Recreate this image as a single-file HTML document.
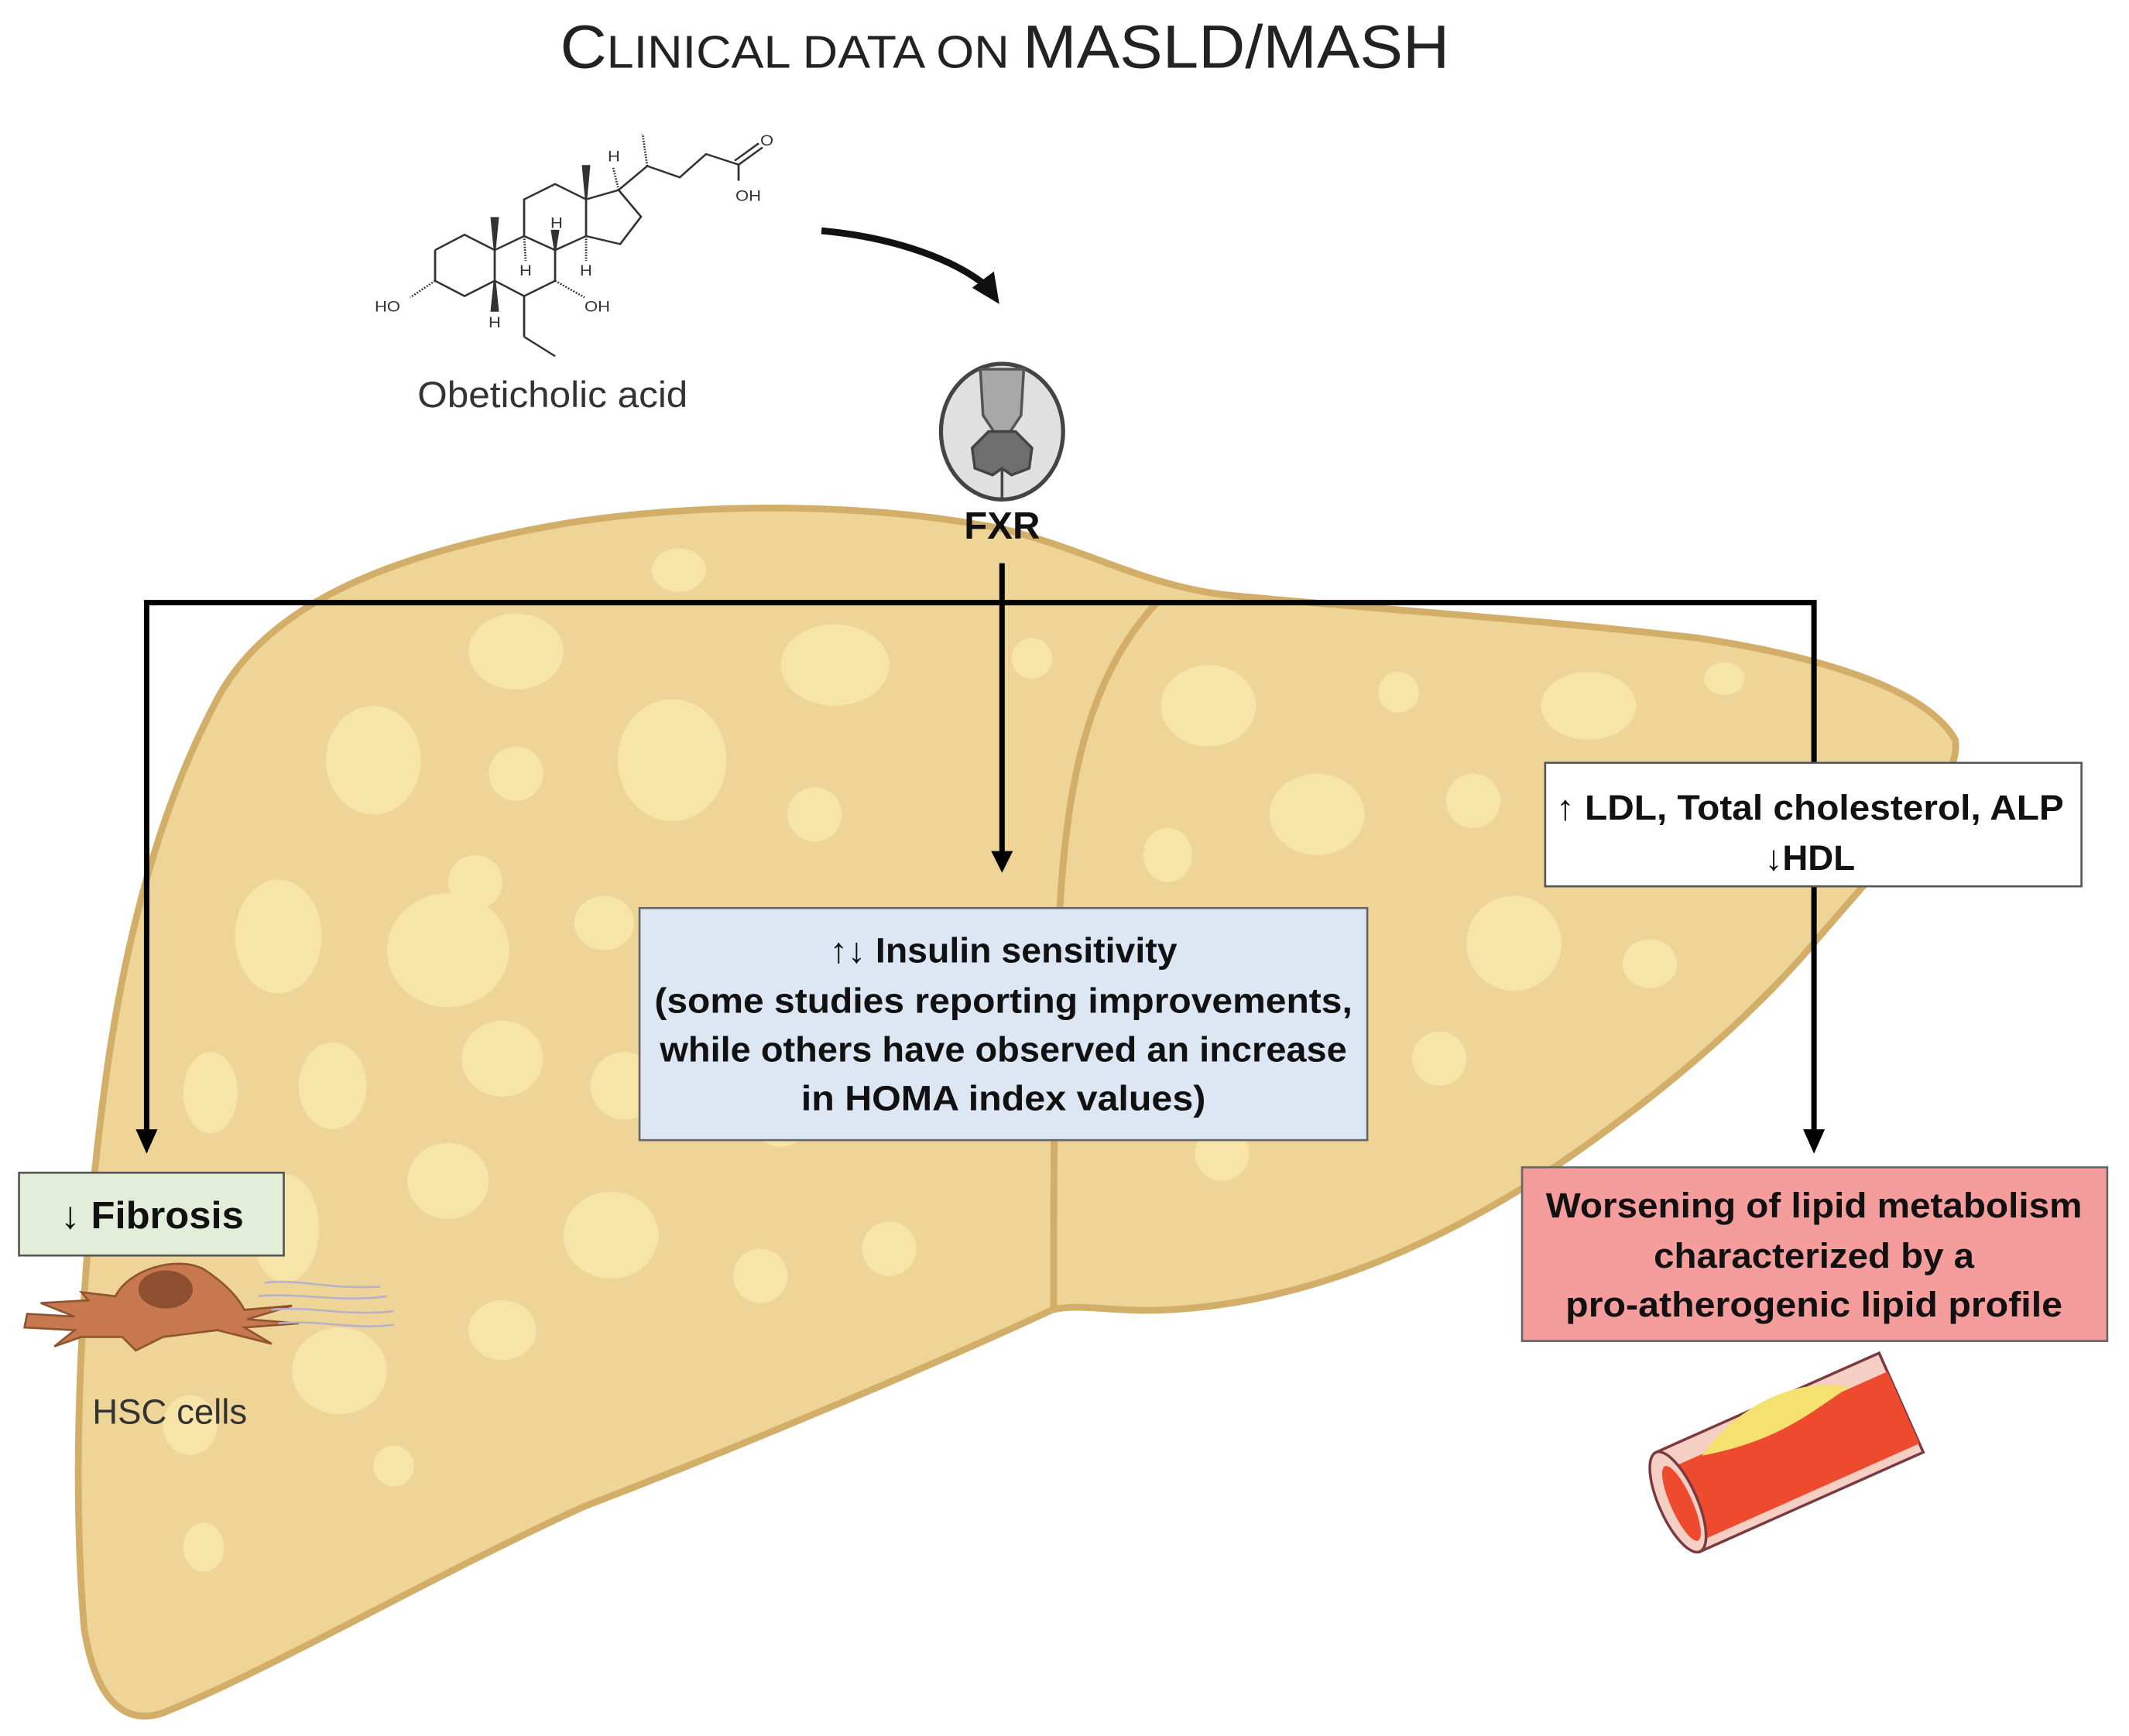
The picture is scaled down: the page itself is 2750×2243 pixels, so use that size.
<!DOCTYPE html>
<html><head><meta charset="utf-8"><style>
html,body{margin:0;padding:0;background:#fff;}
svg{display:block;}
text{font-family:"Liberation Sans","DejaVu Sans",sans-serif;}
</style></head><body>
<svg width="2750" height="2243" viewBox="0 0 1568 1279" preserveAspectRatio="none" xmlns="http://www.w3.org/2000/svg">
<!-- Title -->
<text x="740" y="50" text-anchor="middle" font-size="45" fill="#222" textLength="655" lengthAdjust="spacingAndGlyphs"><tspan>C</tspan><tspan font-size="34">LINICAL DATA ON </tspan><tspan>MASLD/MASH</tspan></text>

<!-- Liver -->
<path d="M160,515 C200,440 300,405 420,385 C520,370 640,370 740,390 C800,405 840,430 900,438 C1000,448 1120,455 1250,470 C1350,485 1420,510 1440,545 C1445,575 1400,620 1340,690 C1290,750 1220,810 1130,870 C1050,920 960,960 860,965 C820,967 795,960 775,965 C700,1000 560,1060 430,1110 C320,1160 200,1230 120,1262 C90,1272 70,1250 62,1200 C52,1080 60,920 80,780 C95,680 120,590 160,515 Z" fill="#EED597" stroke="#D2AE68" stroke-width="5"/>
<path d="M852,444 C800,500 785,580 780,680 C776,780 776,880 776,965" fill="none" stroke="#D2AE68" stroke-width="5"/>
<g fill="#F7E4A8">
<ellipse cx="380" cy="480" rx="35" ry="28"/><ellipse cx="500" cy="420" rx="20" ry="16"/><ellipse cx="615" cy="490" rx="40" ry="30"/>
<ellipse cx="275" cy="560" rx="35" ry="40"/><ellipse cx="380" cy="570" rx="20" ry="20"/><ellipse cx="495" cy="560" rx="40" ry="45"/>
<ellipse cx="600" cy="600" rx="20" ry="20"/><ellipse cx="760" cy="485" rx="15" ry="15"/><ellipse cx="350" cy="650" rx="20" ry="20"/>
<ellipse cx="205" cy="690" rx="32" ry="42"/><ellipse cx="330" cy="700" rx="45" ry="42"/><ellipse cx="445" cy="680" rx="22" ry="20"/>
<ellipse cx="155" cy="805" rx="20" ry="30"/><ellipse cx="245" cy="800" rx="25" ry="32"/><ellipse cx="370" cy="780" rx="30" ry="28"/>
<ellipse cx="460" cy="800" rx="25" ry="25"/><ellipse cx="210" cy="905" rx="25" ry="40"/><ellipse cx="330" cy="870" rx="30" ry="28"/>
<ellipse cx="450" cy="910" rx="35" ry="32"/><ellipse cx="560" cy="940" rx="20" ry="20"/><ellipse cx="655" cy="920" rx="20" ry="20"/>
<ellipse cx="250" cy="1010" rx="35" ry="32"/><ellipse cx="370" cy="980" rx="25" ry="22"/><ellipse cx="140" cy="1050" rx="20" ry="22"/>
<ellipse cx="290" cy="1080" rx="15" ry="15"/><ellipse cx="150" cy="1140" rx="15" ry="18"/><ellipse cx="575" cy="825" rx="20" ry="20"/>
<ellipse cx="890" cy="520" rx="35" ry="30"/><ellipse cx="1030" cy="510" rx="15" ry="15"/><ellipse cx="1170" cy="520" rx="35" ry="25"/>
<ellipse cx="1270" cy="500" rx="15" ry="12"/><ellipse cx="860" cy="630" rx="18" ry="20"/><ellipse cx="970" cy="600" rx="35" ry="30"/>
<ellipse cx="1085" cy="590" rx="20" ry="20"/><ellipse cx="960" cy="700" rx="22" ry="22"/><ellipse cx="1115" cy="695" rx="35" ry="35"/>
<ellipse cx="1215" cy="710" rx="20" ry="18"/><ellipse cx="1060" cy="780" rx="20" ry="20"/><ellipse cx="900" cy="850" rx="20" ry="20"/>
<ellipse cx="1290" cy="600" rx="20" ry="18"/>
</g>

<!-- Molecule -->
<g transform="translate(0,7.8) scale(0.5702,0.4915)" stroke="#333" stroke-width="2.8" fill="none">
<polyline points="562,359 600,336 639,359 639,405 600,428 562,405 562,359"/>
<polyline points="639,359 677,338 717,359 717,405 677,428 639,405"/>
<polyline points="677,338 677,283 717,260 757,283 757,338 717,359"/>
<polyline points="757,283 799,269 828,309 801,350 757,338"/>
<polyline points="799,269 836,233 878,250 912,215 954,231"/>
<line x1="954" y1="231" x2="954" y2="255"/>
<line x1="954" y1="231" x2="985" y2="205"/><line x1="949" y1="225" x2="980" y2="199"/>
<line x1="677" y1="428" x2="677" y2="489"/><line x1="677" y1="489" x2="717" y2="518"/>
<line x1="562" y1="405" x2="530" y2="430" stroke-dasharray="2,2"/>
<line x1="717" y1="405" x2="755" y2="430" stroke-dasharray="2,2"/>
<line x1="836" y1="233" x2="830" y2="185" stroke-dasharray="2,2"/>
<line x1="799" y1="269" x2="792" y2="235" stroke-dasharray="2,2"/>
<line x1="677" y1="338" x2="679" y2="375" stroke-dasharray="2,2"/>
<line x1="757" y1="338" x2="757" y2="375" stroke-dasharray="2,2"/>
<polygon points="639,359 635,311 643,311" fill="#333"/>
<polygon points="757,283 753,233 761,233" fill="#333"/>
<polygon points="717,359 713,330 721,330" fill="#333"/>
<polygon points="639,405 635,450 643,450" fill="#333"/>
<g stroke="none" fill="#333" font-size="22">
<text x="484" y="451">HO</text><text x="755" y="451">OH</text>
<text x="631" y="475">H</text><text x="671" y="397">H</text><text x="711" y="326">H</text>
<text x="749" y="397">H</text><text x="785" y="226">H</text>
<text x="950" y="285">OH</text><text x="982" y="202">O</text>
</g>
</g>
<text x="407" y="300" text-anchor="middle" font-size="27" fill="#333" textLength="199" lengthAdjust="spacingAndGlyphs">Obeticholic acid</text>

<!-- curved arrow -->
<path d="M605,170 C660,175 705,192 728,212" fill="none" stroke="#111" stroke-width="5"/>
<polygon points="736,224 716,212 732,200" fill="#111"/>

<!-- FXR -->
<ellipse cx="738" cy="318" rx="45" ry="50" fill="#E0E0E0" stroke="#444" stroke-width="3"/>
<path d="M722,272 L754,272 L752,306 L744,318 L732,318 L724,306 Z" fill="#A8A8A8" stroke="#555" stroke-width="2"/>
<path d="M728,318 L748,318 L760,330 L758,345 L745,350 L738,345 L731,350 L718,345 L716,330 Z" fill="#6E6E6E" stroke="#444" stroke-width="2"/>
<line x1="738" y1="346" x2="738" y2="368" stroke="#444" stroke-width="2"/>
<text x="738" y="397" text-anchor="middle" font-size="28" font-weight="bold" fill="#111">FXR</text>

<!-- connectors -->
<g stroke="#000" stroke-width="4" fill="none">
<polyline points="108,838 108,444 1336,444 1336,838"/>
<line x1="738" y1="415" x2="738" y2="632"/>
</g>
<g fill="#000">
<polygon points="738,643 730,627 746,627"/>
<polygon points="108,850 100,832 116,832"/>
<polygon points="1336,850 1328,832 1344,832"/>
</g>

<!-- boxes -->
<rect x="14" y="864" width="195" height="61" fill="#E3EEDA" stroke="#555" stroke-width="1.5"/>
<text x="112" y="905" text-anchor="middle" font-size="28" font-weight="bold" fill="#111" textLength="135" lengthAdjust="spacingAndGlyphs">↓ Fibrosis</text>

<rect x="471" y="669" width="536" height="171" fill="#DCE7F3" stroke="#666" stroke-width="1.5"/>
<g font-size="26" font-weight="bold" fill="#111" text-anchor="middle">
<text x="739" y="709" textLength="256" lengthAdjust="spacingAndGlyphs">↑↓ Insulin sensitivity</text>
<text x="739" y="746" textLength="514" lengthAdjust="spacingAndGlyphs">(some studies reporting improvements,</text>
<text x="739" y="782" textLength="506" lengthAdjust="spacingAndGlyphs">while others have observed an increase</text>
<text x="739" y="818" textLength="298" lengthAdjust="spacingAndGlyphs">in HOMA index values)</text>
</g>

<rect x="1138" y="562" width="395" height="91" fill="#fff" stroke="#555" stroke-width="1.5"/>
<g font-size="26" font-weight="bold" fill="#111" text-anchor="middle">
<text x="1333" y="604" textLength="374" lengthAdjust="spacingAndGlyphs">↑ LDL, Total cholesterol, ALP</text>
<text x="1333" y="641">↓HDL</text>
</g>

<rect x="1121" y="860" width="431" height="128" fill="#F59C9C" stroke="#666" stroke-width="1.5"/>
<g font-size="26" font-weight="bold" fill="#111" text-anchor="middle">
<text x="1336" y="897" textLength="395" lengthAdjust="spacingAndGlyphs">Worsening of lipid metabolism</text>
<text x="1336" y="934" textLength="236" lengthAdjust="spacingAndGlyphs">characterized by a</text>
<text x="1336" y="970" textLength="366" lengthAdjust="spacingAndGlyphs">pro-atherogenic lipid profile</text>
</g>

<!-- HSC cell -->
<g>
<path d="M20,968 L55,970 L30,960 L65,958 L60,952 L85,955 C95,935 130,925 150,935 C165,945 175,955 180,965 L215,962 L182,972 L220,975 L180,978 L200,990 L160,980 L120,985 L100,995 L90,985 L60,985 L40,992 L55,980 L18,978 Z" fill="#C8784E" stroke="#8E5430" stroke-width="1.5"/>
<ellipse cx="122" cy="950" rx="20" ry="14" fill="#8E4E30"/>
<g stroke="#B7B2C8" stroke-width="1.5" fill="none">
<path d="M195,945 C220,942 240,950 280,948"/><path d="M190,955 C220,952 250,960 285,955"/>
<path d="M200,965 C230,962 255,970 290,966"/><path d="M205,975 C235,972 260,980 290,976"/>
</g>
</g>
<text x="125" y="1049" text-anchor="middle" font-size="26" fill="#333" textLength="114" lengthAdjust="spacingAndGlyphs">HSC cells</text>

<!-- Artery -->
<g transform="translate(1318,1070) rotate(-24)">
<rect x="-90" y="-40" width="180" height="80" fill="#F6CFC4" stroke="#7A3A40" stroke-width="2"/>
<rect x="-88" y="-25" width="178" height="58" fill="#EE4B2E"/>
<path d="M-60,-24 C-20,-48 30,-48 60,-26 C30,-22 0,-10 -60,-24 Z" fill="#F4E170"/>
<ellipse cx="-90" cy="0" rx="14" ry="40" fill="#F6CFC4" stroke="#7A3A40" stroke-width="2"/>
<ellipse cx="-88" cy="2" rx="8" ry="30" fill="#EE4B2E"/>
</g>
</svg>
</body></html>
